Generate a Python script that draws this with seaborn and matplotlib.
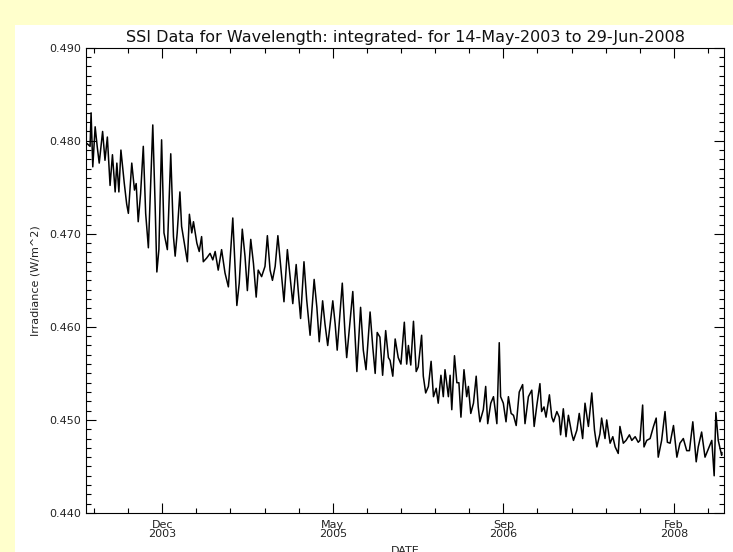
import matplotlib
matplotlib.use("Agg")
import matplotlib.pyplot as plt
import matplotlib.dates as mdates
from matplotlib.ticker import FixedLocator, FixedFormatter, MultipleLocator, FormatStrFormatter
import seaborn as sns
import pandas as pd
import numpy as np

# ---- data: day offset from 14-May-2003, irradiance (W/m^2) ----
day_offset = [0, 9, 12, 17, 24, 30, 36, 46, 53, 60, 68, 75, 83, 88, 94, 100, 110, 117, 122, 132,
              140, 145, 151, 158, 166, 173, 181, 194, 201, 206, 212, 220, 227, 237, 247, 255, 260, 266, 274, 279,
              289, 296, 302, 309, 314, 324, 331, 338, 343, 353, 363, 371, 378, 387, 397, 407, 417, 430, 442, 449,
              458, 466, 473, 483, 491, 499, 505, 515, 525, 532, 540, 547, 555, 563, 574, 581, 591, 599, 607, 617,
              623, 630, 640, 648, 658, 670, 678, 685, 695, 702, 710, 725, 732, 738, 746, 753, 761, 766, 776, 784,
              791, 796, 807, 815, 823, 835, 843, 850, 856, 864, 872, 881, 889, 894, 902, 909, 918, 926, 936, 943,
              948, 955, 963, 971, 977, 987, 992, 999, 1007, 1015, 1022, 1030, 1036, 1044, 1051, 1056, 1066, 1071, 1076, 1084,
              1091, 1097, 1103, 1112, 1120, 1125, 1132, 1140, 1148, 1154, 1159, 1169, 1176, 1182, 1191, 1199, 1204, 1209, 1216, 1220,
              1228, 1236, 1243, 1251, 1258, 1266, 1275, 1285, 1292, 1302, 1312, 1319, 1327, 1336, 1341, 1348, 1354, 1364, 1371, 1376,
              1386, 1393, 1397, 1405, 1413, 1420, 1430, 1435, 1445, 1452, 1462, 1469, 1479, 1489, 1497, 1504, 1513, 1518, 1528, 1533,
              1543, 1551, 1558, 1567, 1572, 1582, 1590, 1600, 1607, 1617, 1626, 1631, 1639, 1643, 1651, 1661, 1671, 1679, 1685, 1695,
              1705, 1712, 1720, 1730, 1740, 1749, 1759, 1769, 1777, 1787, 1797, 1803, 1813, 1823, 1833, 1843, 1850, 1855, 1862, 1872,
              1873]
irradiance = [0.4797, 0.4794, 0.4830, 0.4772, 0.4815, 0.4794, 0.4776, 0.4810, 0.4779, 0.4804, 0.4752, 0.4785, 0.4745, 0.4776, 0.4745, 0.4790, 0.4754, 0.4732, 0.4722, 0.4776,
              0.4747, 0.4754, 0.4713, 0.4743, 0.4794, 0.4722, 0.4685, 0.4817, 0.4730, 0.4659, 0.4683, 0.4801, 0.4701, 0.4683, 0.4786, 0.4697, 0.4676, 0.4701, 0.4745, 0.4708,
              0.4686, 0.4670, 0.4721, 0.4701, 0.4713, 0.4690, 0.4681, 0.4697, 0.4670, 0.4674, 0.4679, 0.4672, 0.4681, 0.4661, 0.4683, 0.4658, 0.4643, 0.4717, 0.4623, 0.4647,
              0.4705, 0.4676, 0.4639, 0.4694, 0.4668, 0.4632, 0.4661, 0.4654, 0.4665, 0.4698, 0.4661, 0.4650, 0.4665, 0.4698, 0.4654, 0.4627, 0.4683, 0.4654, 0.4625, 0.4667,
              0.4639, 0.4609, 0.4670, 0.4629, 0.4591, 0.4651, 0.4621, 0.4584, 0.4628, 0.4603, 0.4580, 0.4628, 0.4603, 0.4575, 0.4614, 0.4647, 0.4593, 0.4567, 0.4607, 0.4638,
              0.4589, 0.4552, 0.4621, 0.4575, 0.4554, 0.4616, 0.4578, 0.4550, 0.4594, 0.4589, 0.4548, 0.4596, 0.4567, 0.4564, 0.4547, 0.4587, 0.4567, 0.4560, 0.4605, 0.4560,
              0.4580, 0.4559, 0.4606, 0.4552, 0.4557, 0.4591, 0.4547, 0.4529, 0.4536, 0.4563, 0.4525, 0.4534, 0.4518, 0.4548, 0.4525, 0.4554, 0.4525, 0.4548, 0.4511, 0.4569,
              0.4540, 0.4540, 0.4503, 0.4554, 0.4525, 0.4536, 0.4507, 0.4518, 0.4547, 0.4514, 0.4498, 0.4511, 0.4536, 0.4496, 0.4518, 0.4525, 0.4511, 0.4496, 0.4583, 0.4525,
              0.4518, 0.4498, 0.4525, 0.4507, 0.4505, 0.4494, 0.4530, 0.4538, 0.4496, 0.4525, 0.4532, 0.4493, 0.4516, 0.4539, 0.4509, 0.4514, 0.4503, 0.4527, 0.4503, 0.4498,
              0.4509, 0.4503, 0.4484, 0.4512, 0.4482, 0.4505, 0.4485, 0.4478, 0.4489, 0.4507, 0.4480, 0.4518, 0.4493, 0.4529, 0.4489, 0.4471, 0.4485, 0.4502, 0.4480, 0.4500,
              0.4475, 0.4482, 0.4471, 0.4464, 0.4493, 0.4475, 0.4478, 0.4484, 0.4478, 0.4482, 0.4476, 0.4478, 0.4516, 0.4471, 0.4478, 0.4480, 0.4493, 0.4502, 0.4460, 0.4478,
              0.4509, 0.4476, 0.4475, 0.4494, 0.4460, 0.4475, 0.4480, 0.4467, 0.4467, 0.4498, 0.4455, 0.4471, 0.4487, 0.4460, 0.4469, 0.4478, 0.4440, 0.4508, 0.4478, 0.4462,
              0.4465]

start_date = "2003-05-14"
end_date = "2008-06-29"
major_tick_labels = ["Dec\n2003", "May\n2005", "Sep\n2006", "Feb\n2008"]
y_ticks = [0.440, 0.450, 0.460, 0.470, 0.480, 0.490]
title = "SSI Data for Wavelength: integrated- for 14-May-2003 to 29-Jun-2008"

df = pd.DataFrame({
    "date": pd.Timestamp(start_date) + pd.to_timedelta(day_offset, unit="D"),
    "irradiance": irradiance,
})

sns.set_style("ticks")
plt.rcParams["font.family"] = ["DejaVu Sans"]

W, H = 733, 552
fig = plt.figure(figsize=(W / 100, H / 100), dpi=100)
fig.patch.set_facecolor("#FFFFCC")

# white page area behind the plot
bg = fig.add_axes([15 / W, 0, 1 - 15 / W, 1 - 25 / H], zorder=0)
bg.set_axis_off()
bg.add_patch(plt.Rectangle((0, 0), 1, 1, transform=bg.transAxes, facecolor="white", edgecolor="none"))

ax = fig.add_axes([86 / W, 1 - 513 / H, (724 - 86) / W, (513 - 47.7) / H], zorder=1)
ax.set_facecolor("white")

sns.lineplot(data=df, x="date", y="irradiance", ax=ax, color="black", lw=1.1)

# x axis limits / ticks
t0 = pd.Timestamp(start_date)
ax.set_xlim(mdates.date2num(t0 - pd.Timedelta(days=3)),
            mdates.date2num(pd.Timestamp(end_date) + pd.Timedelta(days=6)))
first_major = t0 + pd.Timedelta(days=222)
step = 503.0
majors = [mdates.date2num(first_major + pd.Timedelta(days=step * k)) for k in range(4)]
minors = [mdates.date2num(first_major + pd.Timedelta(days=step / 5 * j)) for j in range(-2, 17)]
ax.xaxis.set_major_locator(FixedLocator(majors))
ax.xaxis.set_major_formatter(FixedFormatter(major_tick_labels))
ax.xaxis.set_minor_locator(FixedLocator(minors))

ax.set_ylim(0.440, 0.490)
ax.yaxis.set_major_locator(FixedLocator(y_ticks))
ax.yaxis.set_major_formatter(FormatStrFormatter("%.3f"))
ax.yaxis.set_minor_locator(MultipleLocator(0.001))

ax.tick_params(which="both", direction="in", top=True, right=True, color="black",
               labelsize=8, labelcolor="#222222", width=0.8)
ax.tick_params(which="major", length=7)
ax.tick_params(which="minor", length=3.5)
ax.tick_params(axis="x", which="major", pad=5)
for lab in ax.get_xticklabels():
    lab.set_linespacing(0.9)

for s in ax.spines.values():
    s.set_visible(True)
    s.set_color("black")
    s.set_linewidth(0.8)

ax.set_title(title, fontsize=11.5, pad=4, color="#111111")
ax.set_ylabel("Irradiance (W/m^2)", fontsize=8, labelpad=6, color="#222222")
ax.set_xlabel("DATE", fontsize=8, labelpad=5, color="#222222")

fig.savefig("out.png", dpi=100, facecolor=fig.get_facecolor())
